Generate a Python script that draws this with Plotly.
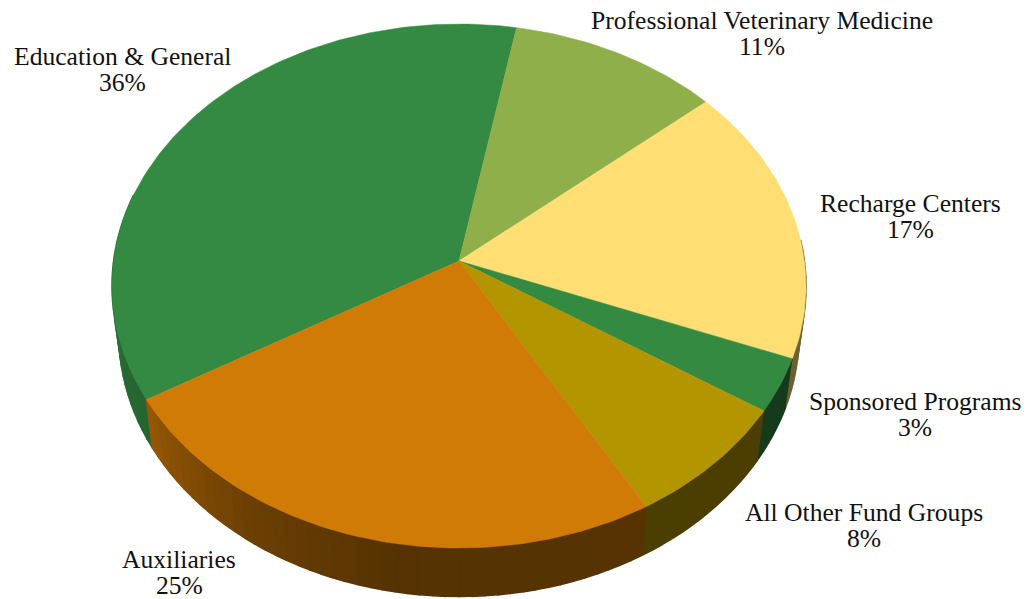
import numpy as np
import plotly.graph_objects as go

# Data
categories = ["Education & General", "Professional Veterinary Medicine", "Recharge Centers",
              "Sponsored Programs", "All Other Fund Groups", "Auxiliaries"]
values = [36.4, 10.8, 17.2, 3.3, 7.5, 24.8]

# Style
top_colors = ["#348A42", "#8FAF4B", "#FFDF73", "#358A42", "#B39500", "#D17B07"]
label_x = [122, 762, 910, 915, 864, 179]
label_y = [56, 20, 203, 401, 512, 559]
line_gap = 26
font = dict(family="Liberation Serif, Times New Roman, serif", size=25.6, color="#111111")

# Projection of the tilted pie onto the page
CX, CY, A, B, K = 459.0, 261.0, 345.4, 259.6, 0.0955
START_DEG = 10.5  # clockwise from 12 o'clock, where the first slice ends
DEPTH, SHRINK = 48.5, 0.98


def project(theta_deg):
    t = np.radians(theta_deg)
    d = 1 + K * np.cos(t)
    return CX + A * np.sin(t) / d, CY - B * np.cos(t) / d


def shade_factor(theta_deg):
    a = np.mod(theta_deg, 360)
    return np.interp(a, [0, 100, 112, 190, 215, 240, 262, 280, 360],
                     [0.45, 0.45, 0.42, 0.41, 0.52, 0.72, 0.80, 0.85, 0.85])


def scale_color(hex_color, f):
    r, g, b = (int(hex_color[i:i + 2], 16) for i in (1, 3, 5))
    return f"rgb({r * f:.0f},{g * f:.0f},{b * f:.0f})"


fractions = np.array(values, dtype=float) / sum(values)
# Slices run clockwise; Education & General ends at START_DEG
edges = START_DEG - fractions[0] * 360 + np.concatenate([[0], np.cumsum(fractions) * 360])

fig = go.Figure()

# Side wall strips, coloured by angle
for i in range(len(values)):
    a0, a1 = edges[i], edges[i + 1]
    n = max(2, int((a1 - a0) / 2.0) + 1)
    grid = np.linspace(a0, a1, n + 1)
    for s, e in zip(grid[:-1], grid[1:]):
        mid = 0.5 * (s + e)
        if not 85 <= np.mod(mid, 360) <= 285:
            continue
        ts = np.linspace(s, e, 3)
        xt, yt = project(ts)
        xb = CX + (xt - CX) * SHRINK
        yb = yt + DEPTH
        col = scale_color(top_colors[i], float(shade_factor(mid)))
        fig.add_trace(go.Scatter(
            x=np.concatenate([xt, xb[::-1]]), y=np.concatenate([yt, yb[::-1]]),
            mode="lines", fill="toself", fillcolor=col,
            line=dict(color=col, width=1.6), hoverinfo="skip", showlegend=False))

# Top face slices
for i in range(len(values)):
    ts = np.linspace(edges[i], edges[i + 1], max(8, int(values[i] * 3.6)))
    xs, ys = project(ts)
    fig.add_trace(go.Scatter(
        x=np.concatenate([[CX], xs, [CX]]), y=np.concatenate([[CY], ys, [CY]]),
        mode="lines", fill="toself", fillcolor=top_colors[i],
        line=dict(color=top_colors[i], width=0.5), hoverinfo="skip", showlegend=False))

# Labels
for name, v, lx, ly in zip(categories, values, label_x, label_y):
    for text, yy in ((name, ly), (f"{v:.0f}%", ly + line_gap)):
        fig.add_annotation(x=lx, y=yy, text=text, showarrow=False, font=font,
                           xanchor="center", yanchor="middle")

fig.update_layout(
    width=1029, height=599, margin=dict(l=0, r=0, t=0, b=0),
    paper_bgcolor="white", plot_bgcolor="white", showlegend=False,
    xaxis=dict(range=[0, 1029], visible=False, fixedrange=True),
    yaxis=dict(range=[599, 0], visible=False, fixedrange=True),
)
fig.write_html("out.html", config={"displayModeBar": False},
               post_script="document.body.style.margin='0';document.documentElement.style.overflow='hidden';")
